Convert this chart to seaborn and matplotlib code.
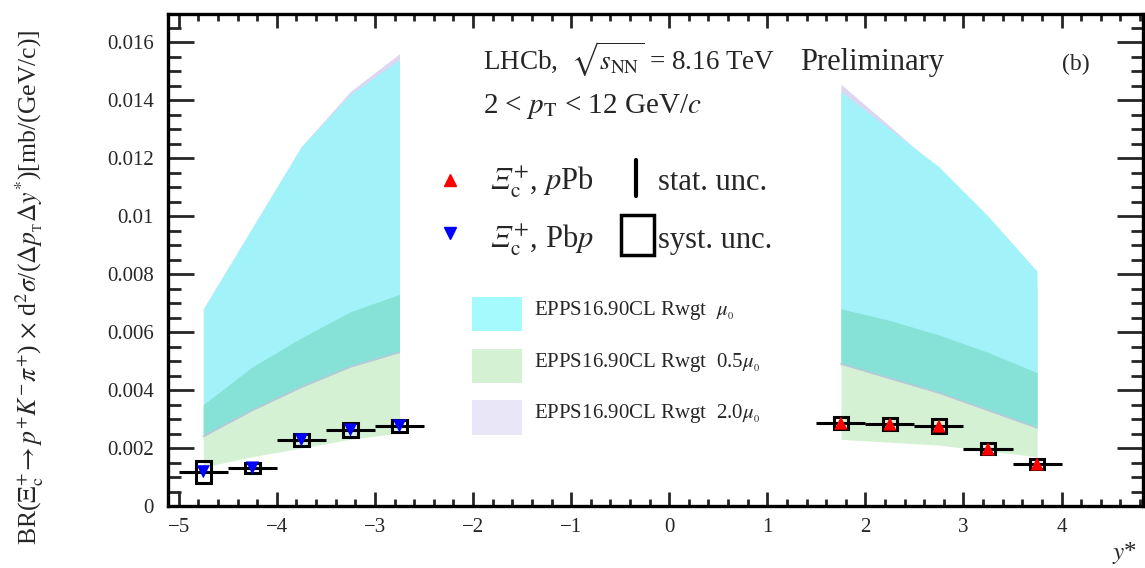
import matplotlib
matplotlib.use("Agg")
import matplotlib.pyplot as plt
from matplotlib.patches import Rectangle
from matplotlib.ticker import MultipleLocator, FuncFormatter
import numpy as np
import pandas as pd
import seaborn as sns

# --- data ---
y_bwd = [-4.75, -4.25, -3.75, -3.25, -2.75]   # Pbp
y_fwd = [1.75, 2.25, 2.75, 3.25, 3.75]        # pPb
half_bin = 0.25

val_pbp = [0.00118, 0.00131, 0.00228, 0.00262, 0.00276]
stat_pbp = [0.00012, 0.00006, 0.00006, 0.00006, 0.00006]
syst_pbp = [0.00037, 0.00017, 0.00022, 0.00024, 0.00021]

val_ppb = [0.00286, 0.00283, 0.00276, 0.00197, 0.00145]
stat_ppb = [0.00006, 0.00006, 0.00006, 0.00005, 0.00004]
syst_ppb = [0.00022, 0.00021, 0.00024, 0.00019, 0.00017]

# EPPS16 bands (lower, upper)
mu0_lo_bwd = [0.0024, 0.0033, 0.0041, 0.0048, 0.0053]
mu0_hi_bwd = [0.0068, 0.0096, 0.0124, 0.0142, 0.0154]
mu05_lo_bwd = [0.00134, 0.0017, 0.0020, 0.0023, 0.00252]
mu05_hi_bwd = [0.0035, 0.0048, 0.0058, 0.0067, 0.0073]
mu2_lo_bwd = [0.0023, 0.0032, 0.0040, 0.0047, 0.0052]
mu2_hi_bwd = [0.0068, 0.0096, 0.0124, 0.0143, 0.0156]

mu0_lo_fwd = [0.0049, 0.0044, 0.0039, 0.0033, 0.0027]
mu0_hi_fwd = [0.0143, 0.0130, 0.0117, 0.0100, 0.0081]
mu05_lo_fwd = [0.0023, 0.0022, 0.0021, 0.0019, 0.0017]
mu05_hi_fwd = [0.0068, 0.0064, 0.0059, 0.0053, 0.0046]
mu2_lo_fwd = [0.0048, 0.0043, 0.0038, 0.0032, 0.0026]
mu2_hi_fwd = [0.01455, 0.0131, 0.0116, 0.0097, 0.00755]

c_mu0 = "#a2f3f9"
c_mu05 = "#d4f1d4"
c_mu2 = "#dcd6f3"
c_overlap = "#86e2d6"

sns.set_style("ticks")
plt.rcParams["font.family"] = ["Liberation Serif", "DejaVu Serif"]
plt.rcParams["mathtext.fontset"] = "stix"

fig = plt.figure(figsize=(11.45, 5.68), dpi=100)
ax = fig.add_axes([168 / 1145, 1 - 506 / 568, (1143 - 168) / 1145, (506 - 14) / 568])

# bands
bands = [
    (y_bwd, mu0_lo_bwd, mu0_hi_bwd, mu05_lo_bwd, mu05_hi_bwd, mu2_lo_bwd, mu2_hi_bwd),
    (y_fwd, mu0_lo_fwd, mu0_hi_fwd, mu05_lo_fwd, mu05_hi_fwd, mu2_lo_fwd, mu2_hi_fwd),
]
for xs, a_lo, a_hi, g_lo, g_hi, l_lo, l_hi in bands:
    ax.fill_between(xs, l_lo, l_hi, color=c_mu2, lw=0, zorder=1)
    ax.fill_between(xs, g_lo, g_hi, color=c_mu05, lw=0, zorder=2)
    ax.fill_between(xs, a_lo, a_hi, color=c_mu0, lw=0, zorder=3)
    ax.fill_between(xs, np.maximum(a_lo, g_lo), np.minimum(a_hi, g_hi),
                    color=c_overlap, lw=0, zorder=3.5)
    ax.plot(xs, a_lo, color="#b8c8d8", lw=1.2, zorder=3.6)

# systematic boxes
for xs, vs, ss in [(y_bwd, val_pbp, syst_pbp), (y_fwd, val_ppb, syst_ppb)]:
    for x, v, s in zip(xs, vs, ss):
        ax.add_patch(Rectangle((x - 0.075, v - s), 0.15, 2 * s, fill=False,
                               ec="black", lw=2.2, zorder=5))

# horizontal bin widths and stat errors
ax.errorbar(y_bwd, val_pbp, xerr=half_bin, yerr=stat_pbp, fmt="none",
            ecolor="black", elinewidth=2.2, capsize=0, zorder=4)
ax.errorbar(y_fwd, val_ppb, xerr=half_bin, yerr=stat_ppb, fmt="none",
            ecolor="black", elinewidth=2.2, capsize=0, zorder=4)

df_pts = pd.DataFrame({
    "ystar": y_bwd + y_fwd,
    "value": val_pbp + val_ppb,
    "system": ["Pbp"] * 5 + ["pPb"] * 5,
})
sns.scatterplot(data=df_pts, x="ystar", y="value", hue="system", style="system",
                palette={"Pbp": "blue", "pPb": "red"},
                markers={"Pbp": "v", "pPb": "^"}, s=90, linewidth=0,
                legend=False, ax=ax, zorder=6)

ax.set_xlim(-5.11, 4.83)
ax.set_ylim(0, 0.01697)
ax.set_xlabel("")
ax.set_ylabel("")

ax.xaxis.set_major_locator(MultipleLocator(1))
ax.xaxis.set_minor_locator(MultipleLocator(0.2))
ax.yaxis.set_major_locator(MultipleLocator(0.002))
ax.yaxis.set_minor_locator(MultipleLocator(0.0005))
ax.yaxis.set_major_formatter(FuncFormatter(lambda v, p: f"{round(v, 4):g}"))
ax.xaxis.set_major_formatter(FuncFormatter(lambda v, p: f"{int(round(v))}".replace("-", "\u2212")))
ax.tick_params(axis="both", which="both", direction="in", top=True, right=True,
               width=2.0, labelsize=15)
ax.tick_params(axis="y", which="major", length=19, pad=10)
ax.tick_params(axis="y", which="minor", length=9)
ax.tick_params(axis="x", which="major", length=10, pad=9)
ax.tick_params(axis="x", which="minor", length=5)
for sp in ax.spines.values():
    sp.set_linewidth(2.4)
    sp.set_color("black")

# annotations
xi = "\U0001D6EF_{\\rm c}^{+}"
ax.text(-1.90, 0.01503, r"LHCb,  $\sqrt{s_{\rm NN}}$ = 8.16 TeV", fontsize=19.5, va="baseline")
ax.text(1.33, 0.01503, "Preliminary", fontsize=22, va="baseline")
ax.text(4.0, 0.01503, "(b)", fontsize=17, va="baseline")
ax.text(-1.90, 0.01355, r"2 < $p_{\rm T}$ < 12 GeV/$c$", fontsize=21, va="baseline")

ax.plot([-2.24], [0.01124], marker="^", color="red", ms=8, ls="none", zorder=7)
ax.plot([-2.24], [0.00941], marker="v", color="blue", ms=8, ls="none", zorder=7)
ax.text(-1.84, 0.0109, "$" + xi + r"$, $p$Pb", fontsize=22, va="baseline")
ax.text(-1.84, 0.0089, "$" + xi + r"$, Pb$p$", fontsize=22, va="baseline")
ax.plot([-0.34, -0.34], [0.01069, 0.01193], color="black", lw=3)
ax.text(-0.11, 0.0109, "stat. unc.", fontsize=22, va="baseline")
ax.add_patch(Rectangle((-0.49, 0.00866), 0.33, 0.00137, fill=False, ec="black", lw=2.5))
ax.text(-0.11, 0.0089, "syst. unc.", fontsize=22, va="baseline")

ax.add_patch(Rectangle((-2.01, 0.00603), 0.51, 0.00118, color="#a4fafd", lw=0))
ax.add_patch(Rectangle((-2.01, 0.00424), 0.51, 0.00117, color=c_mu05, lw=0))
ax.add_patch(Rectangle((-2.01, 0.00245), 0.51, 0.00121, color="#e8e6f7", lw=0))
ax.text(-1.38, 0.00659, r"EPPS16.90CL Rwgt  $\mu_{_{0}}$", fontsize=15, va="baseline")
ax.text(-1.38, 0.00479, r"EPPS16.90CL Rwgt  0.5$\mu_{_{0}}$", fontsize=15, va="baseline")
ax.text(-1.38, 0.00303, r"EPPS16.90CL Rwgt  2.0$\mu_{_{0}}$", fontsize=15, va="baseline")

fig.text(30 / 1145, 1 - 287 / 568,
         r"BR($\Xi_{\rm c}^{+}\!\rightarrow p^{+}K^{-}\pi^{+}$) $\times$ d$^{2}\sigma$/($\Delta p_{_{\rm T}}\Delta y^{*}$)[mb/(GeV/c)]",
         rotation=90, ha="center", va="center", fontsize=18.5)
fig.text(1125 / 1145, 1 - 553 / 568, r"$y$*", fontsize=18, ha="center", va="center")

fig.savefig("out.png", dpi=100)
